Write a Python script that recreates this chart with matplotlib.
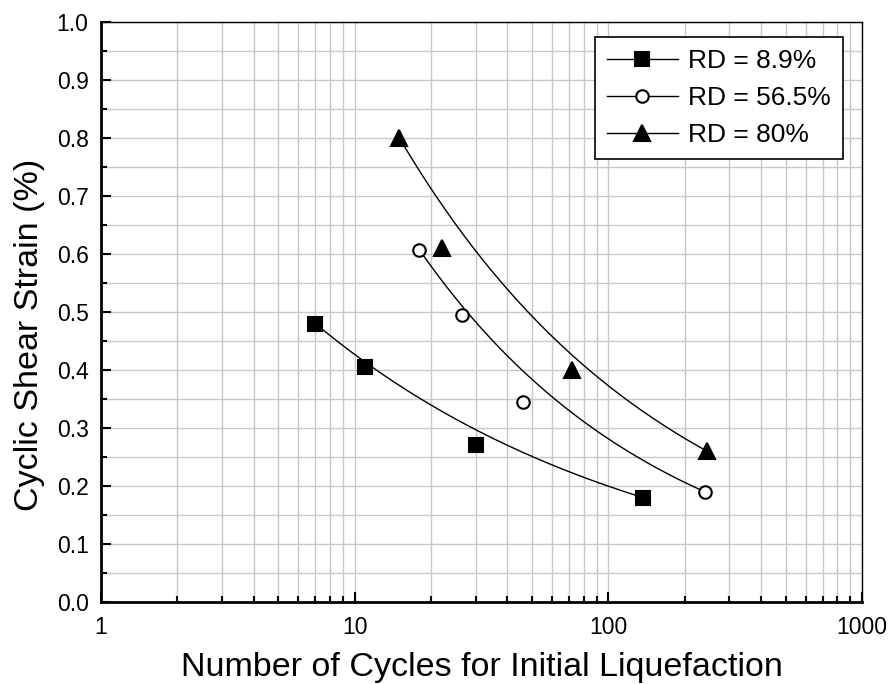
import numpy as np
import matplotlib.pyplot as plt
from matplotlib.ticker import LogLocator, MultipleLocator, FixedLocator, FixedFormatter, NullFormatter

plt.rcParams['font.family'] = ['Liberation Sans', 'DejaVu Sans']

# cycles to initial liquefaction vs. cyclic shear strain
n_rd89 = [7, 11, 30, 137]
g_rd89 = [0.48, 0.405, 0.27, 0.18]
n_rd565 = [18, 26.5, 46, 240]
g_rd565 = [0.607, 0.495, 0.345, 0.19]
n_rd80 = [15, 22, 72, 245]
g_rd80 = [0.80, 0.61, 0.40, 0.26]
labels = ['RD = 8.9%', 'RD = 56.5%', 'RD = 80%']


def power_curve(n, g):
    # power law through the first and last test points
    b = np.log(g[-1] / g[0]) / np.log(n[-1] / n[0])
    xs = np.logspace(np.log10(n[0]), np.log10(n[-1]), 200)
    return xs, g[0] * (xs / n[0]) ** b


fig = plt.figure(figsize=(8.9, 6.84), dpi=100)
ax = fig.add_axes([0.1135, 0.1199, 0.855, 0.848])

series = [(n_rd89, g_rd89, 's', 'k', 9.5), (n_rd565, g_rd565, 'o', 'white', 9),
          (n_rd80, g_rd80, '^', 'k', 11)]
handles = []
for (n, g, m, fc, ms), lab in zip(series, labels):
    xs, ys = power_curve(n, g)
    ax.plot(xs, ys, color='k', lw=1.0, zorder=3)
    ax.plot(n, g, ls='none', marker=m, ms=ms, mfc=fc, mec='k', mew=1.5, zorder=4)
    h, = ax.plot([], [], color='k', lw=1.0, marker=m, ms=ms, mfc=fc, mec='k', mew=1.5, label=lab)
    handles.append(h)

ax.set_xscale('log')
ax.set_xlim(1, 1000)
ax.set_ylim(0, 1.0)
ax.xaxis.set_major_locator(FixedLocator([1, 10, 100, 1000]))
ax.xaxis.set_major_formatter(FixedFormatter(['1', '10', '100', '1000']))
ax.xaxis.set_minor_locator(LogLocator(base=10, subs=np.arange(2, 10)))
ax.xaxis.set_minor_formatter(NullFormatter())
ax.yaxis.set_major_locator(MultipleLocator(0.1))
ax.yaxis.set_minor_locator(MultipleLocator(0.05))
ax.yaxis.set_major_formatter(plt.FormatStrFormatter('%.1f'))

ax.grid(True, which='both', color='#c8c8c8', lw=1.0)
ax.set_axisbelow(True)
ax.tick_params(which='major', direction='in', length=7.5, width=1.5, labelsize=16.5)
ax.tick_params(axis='x', which='major', pad=10)
ax.tick_params(axis='y', which='major', pad=9)
ax.tick_params(which='minor', direction='in', length=4, width=1.5)
for side in ['left', 'bottom']:
    ax.spines[side].set_linewidth(2.0)
for side in ['top', 'right']:
    ax.spines[side].set_linewidth(1.0)

ax.set_xlabel('Number of Cycles for Initial Liquefaction', fontsize=24.5)
ax.set_ylabel('Cyclic Shear Strain (%)', fontsize=24.5)
ax.xaxis.set_label_coords(0.5, -0.086)
ax.yaxis.set_label_coords(-0.074, 0.46)

leg = ax.legend(handles=handles, loc='upper right', bbox_to_anchor=(0.975, 0.974), fontsize=19,
                frameon=True, fancybox=False, edgecolor='k', framealpha=1, handlelength=2.7,
                handletextpad=0.4, borderpad=0.45, labelspacing=0.5, borderaxespad=0)
leg.get_frame().set_linewidth(1.2)

fig.savefig('out.png', dpi=100)
